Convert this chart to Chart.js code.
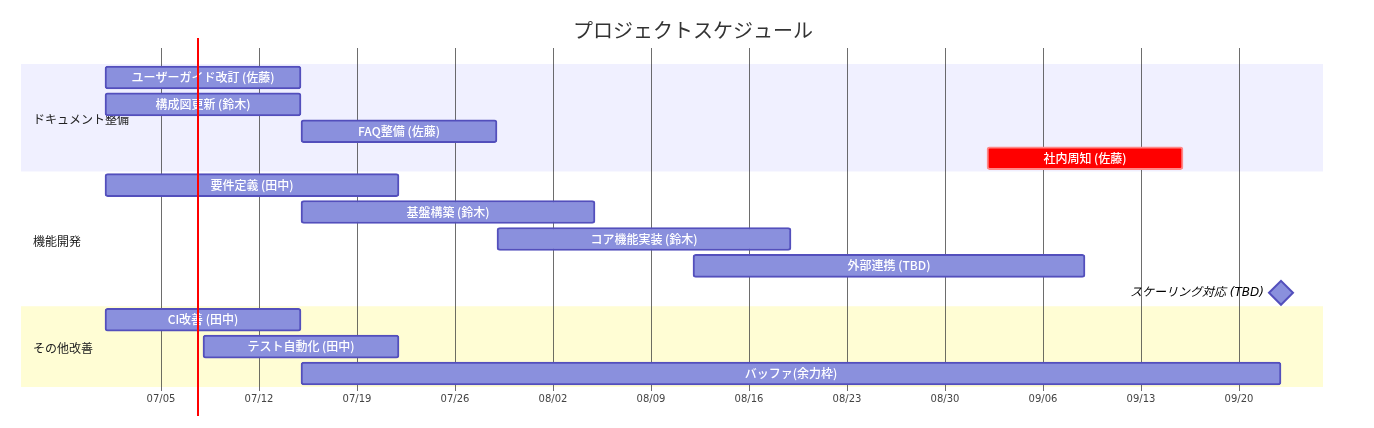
<!DOCTYPE html>
<html>
<head>
<meta charset="utf-8">
<script src="https://cdn.jsdelivr.net/npm/chart.js@4"></script>
<style>
  body { margin: 0; background: #fff; }
</style>
</head>
<body>
<canvas id="gantt" width="1374" height="428"></canvas>
<script>
// Gantt data (year assumed 2026)
const chartTitle = 'プロジェクトスケジュール';
const sections = ['ドキュメント整備', '機能開発', 'その他改善'];
const sectionRows = [4, 5, 3];
const taskNames = [
  'ユーザーガイド改訂 (佐藤)', '構成図更新 (鈴木)', 'FAQ整備 (佐藤)', '社内周知 (佐藤)',
  '要件定義 (田中)', '基盤構築 (鈴木)', 'コア機能実装 (鈴木)', '外部連携 (TBD)', 'スケーリング対応 (TBD)',
  'CI改善 (田中)', 'テスト自動化 (田中)', 'バッファ(余力枠)'
];
const taskStarts = ['07-01', '07-01', '07-15', '09-02', '07-01', '07-15', '07-29', '08-12', null, '07-01', '07-08', '07-15'];
const taskEnds   = ['07-15', '07-15', '07-29', '09-16', '07-22', '08-05', '08-19', '09-09', null, '07-15', '07-22', '09-23'];
const critTasks = ['社内周知 (佐藤)'];
const milestoneName = 'スケーリング対応 (TBD)';
const milestoneDate = '09-23';
const todayDate = '2026-07-07T15:26:00Z';
const axisStart = '06-25';
const axisEnd = '09-26';
const tickLabels = ['07/05', '07/12', '07/19', '07/26', '08/02', '08/09', '08/16', '08/23', '08/30', '09/06', '09/13', '09/20'];

const YEAR = 2026;
const baseMs = Date.UTC(YEAR, 6, 1);
const DAY = 86400000;
function toDay(md) {
  const [m, d] = md.split('-').map(Number);
  return (Date.UTC(YEAR, m - 1, d) - baseMs) / DAY;
}
function labelToDay(lbl) { return toDay(lbl.replace('/', '-')); }

const barData = taskNames.map((n, i) => taskStarts[i] ? [toDay(taskStarts[i]), toDay(taskEnds[i])] : null);
const milestoneData = taskNames.map(n => n === milestoneName ? toDay(milestoneDate) : null);
const tickValues = tickLabels.map(labelToDay);
const todayValue = (Date.parse(todayDate) - baseMs) / DAY;

const CJK = '"Noto Sans CJK JP", sans-serif';
const LATIN = '"DejaVu Sans", "Noto Sans CJK JP", sans-serif';

const ganttPlugin = {
  id: 'gantt',
  beforeDatasetsDraw(chart) {
    const { ctx, chartArea, scales } = chart;
    const y = scales.y, x = scales.x;
    const rowH = y.getPixelForValue(1) - y.getPixelForValue(0);
    const bgColors = ['rgb(240,240,255)', '#ffffff', 'rgb(255,253,212)'];
    let row = 0;
    ctx.save();
    sections.forEach((s, i) => {
      const top = y.getPixelForValue(row) - rowH / 2;
      const h = sectionRows[i] * rowH;
      ctx.fillStyle = bgColors[i % bgColors.length];
      ctx.fillRect(chartArea.left, top, chartArea.right - chartArea.left, h);
      row += sectionRows[i];
    });
    // vertical grid
    ctx.strokeStyle = 'rgba(60,60,60,0.75)';
    ctx.lineWidth = 1;
    tickValues.forEach(v => {
      const px = Math.round(x.getPixelForValue(v)) + 0.5;
      ctx.beginPath();
      ctx.moveTo(px, chartArea.top - 16);
      ctx.lineTo(px, chartArea.bottom + 4);
      ctx.stroke();
    });
    // section labels
    row = 0;
    ctx.fillStyle = '#222';
    ctx.font = '12px ' + CJK;
    ctx.textBaseline = 'middle';
    ctx.textAlign = 'left';
    sections.forEach((s, i) => {
      const mid = y.getPixelForValue(row) - rowH / 2 + sectionRows[i] * rowH / 2 + 2;
      ctx.fillText(s, chartArea.left + 12, mid);
      row += sectionRows[i];
    });
    // title
    ctx.fillStyle = '#333';
    ctx.font = '20px ' + CJK;
    ctx.textAlign = 'center';
    ctx.fillText(chartTitle, chart.width / 2 + 6, 30);
    ctx.restore();
  },
  afterDatasetsDraw(chart) {
    const { ctx } = chart;
    ctx.save();
    ctx.textBaseline = 'middle';
    const meta = chart.getDatasetMeta(0);
    meta.data.forEach((el, i) => {
      if (!barData[i]) return;
      const p = el.getProps(['x', 'y', 'base'], true);
      ctx.fillStyle = '#ffffff';
      ctx.textAlign = 'center';
      ctx.font = '500 12px ' + CJK;
      ctx.fillText(taskNames[i], (p.x + p.base) / 2, p.y);
    });
    const mMeta = chart.getDatasetMeta(1);
    mMeta.data.forEach((el, i) => {
      if (milestoneData[i] === null) return;
      ctx.fillStyle = '#000';
      ctx.textAlign = 'right';
      ctx.font = 'italic 12px ' + LATIN;
      ctx.fillText(taskNames[i], el.x - 17, el.y);
    });
    ctx.restore();
  },
  afterDraw(chart) {
    const { ctx, chartArea, scales } = chart;
    const px = scales.x.getPixelForValue(todayValue);
    ctx.save();
    ctx.strokeStyle = '#ff0000';
    ctx.lineWidth = 2;
    ctx.beginPath();
    ctx.moveTo(px, chartArea.top - 26);
    ctx.lineTo(px, chartArea.bottom + 29);
    ctx.stroke();
    ctx.restore();
  }
};

new Chart(document.getElementById('gantt'), {
  type: 'bar',
  data: {
    labels: taskNames,
    datasets: [
      {
        label: 'tasks',
        data: barData,
        backgroundColor: taskNames.map(n => critTasks.includes(n) ? '#ff0000' : '#8a90dd'),
        borderColor: taskNames.map(n => critTasks.includes(n) ? '#ff8888' : '#534fbc'),
        borderWidth: 2,
        borderRadius: 3,
        borderSkipped: false,
        barThickness: 23
      },
      {
        type: 'line',
        label: 'milestone',
        data: milestoneData,
        showLine: false,
        pointStyle: 'rectRot',
        pointRadius: 12,
        pointBackgroundColor: '#8a90dd',
        pointBorderColor: '#534fbc',
        pointBorderWidth: 2
      }
    ]
  },
  options: {
    indexAxis: 'y',
    responsive: false,
    animation: false,
    layout: { padding: { left: 21, right: 51, top: 64, bottom: 17 } },
    plugins: {
      legend: { display: false },
      tooltip: { enabled: false },
      title: { display: false }
    },
    scales: {
      x: {
        type: 'linear',
        min: toDay(axisStart),
        max: toDay(axisEnd),
        afterBuildTicks: scale => { scale.ticks = tickValues.map(v => ({ value: v })); },
        grid: { display: false, drawTicks: false },
        border: { display: false },
        ticks: {
          autoSkip: false,
          maxRotation: 0,
          padding: 6,
          color: '#444',
          font: { family: LATIN, size: 10 },
          callback: (v, i) => tickLabels[i]
        }
      },
      y: {
        type: 'category',
        display: false,
        offset: true
      }
    }
  },
  plugins: [ganttPlugin]
});
</script>
</body>
</html>
